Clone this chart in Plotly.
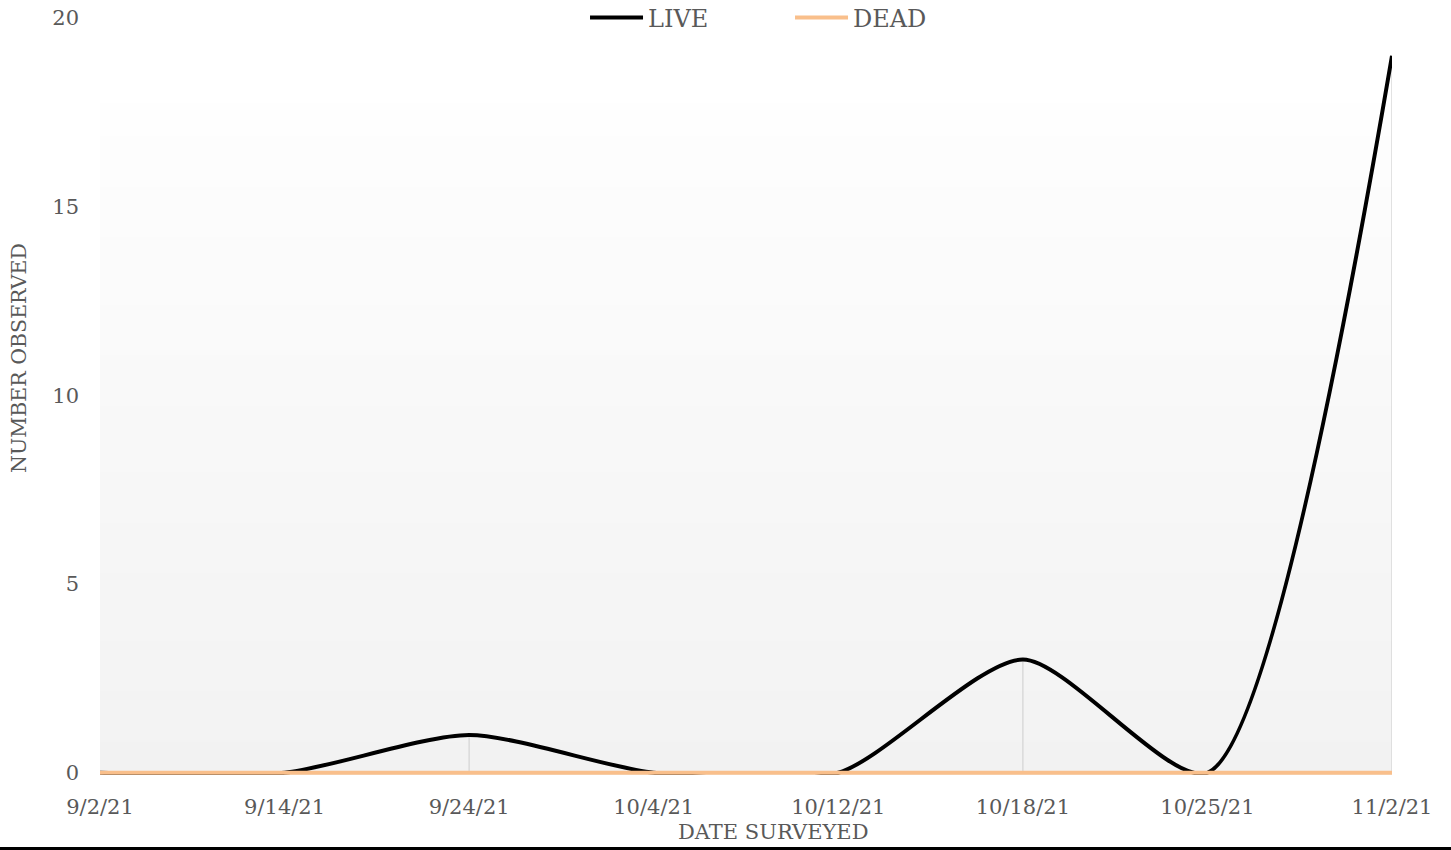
import plotly.graph_objects as go

dates = ["9/2/21", "9/14/21", "9/24/21", "10/4/21", "10/12/21", "10/18/21", "10/25/21", "11/2/21"]
live = [0, 0, 1, 0, 0, 3, 0, 19]
dead = [0, 0, 0, 0, 0, 0, 0, 0]
y_ticks = [0, 5, 10, 15, 20]

FONT = "DejaVu Serif"
TXT = "#595959"

fig = go.Figure()

# drop lines (grey verticals from each LIVE point to the axis)
fig.add_trace(go.Scatter(
    x=dates, y=live, mode="markers", marker=dict(size=0.1, opacity=0),
    showlegend=False, hoverinfo="skip",
    error_y=dict(type="data", symmetric=False, array=[0] * len(live),
                 arrayminus=live, color="#d9d9d9", thickness=1.5, width=0),
))
fig.add_trace(go.Scatter(
    x=dates, y=live, name="LIVE", mode="lines",
    line=dict(color="#000000", width=4, shape="spline", smoothing=0.7),
))
fig.add_trace(go.Scatter(
    x=dates, y=dead, name="DEAD", mode="lines",
    line=dict(color="#f9bf8b", width=4, shape="spline", smoothing=0.7),
))

# vertical gradient background of the plot area
shapes = []
n = 40
top = 0.8877
c_bot = (242, 242, 242)
c_top = (254, 254, 254)
for i in range(n):
    f = (i + 0.5) / n
    c = tuple(round(c_bot[k] + (c_top[k] - c_bot[k]) * f) for k in range(3))
    y0 = top * i / n
    y1 = top * (i + 1) / n
    shapes.append(dict(type="rect", xref="paper", yref="paper",
                       x0=0, x1=1, y0=y0, y1=min(top, y1 + 0.004),
                       fillcolor="rgb(%d,%d,%d)" % c, line=dict(width=0),
                       layer="below"))
# bottom border line
shapes.append(dict(type="line", xref="paper", yref="paper",
                   x0=-0.2, x1=1.2, y0=-0.0971, y1=-0.0971,
                   line=dict(color="#000000", width=3)))

annotations = [
    dict(text="DATE SURVEYED", xref="paper", yref="paper", x=0.5209, y=-0.0753,
         xanchor="center", yanchor="middle", showarrow=False,
         font=dict(family=FONT, size=21, color=TXT)),
    dict(text="NUMBER OBSERVED", xref="paper", yref="paper", x=-0.0627, y=0.5509,
         xanchor="center", yanchor="middle", showarrow=False, textangle=-90,
         font=dict(family=FONT, size=20.5, color=TXT)),
]

fig.update_layout(
    width=1451, height=850,
    margin=dict(l=100, r=59, t=18, b=75, autoexpand=False),
    paper_bgcolor="white", plot_bgcolor="rgba(0,0,0,0)",
    font=dict(family=FONT, color=TXT, size=20),
    shapes=shapes,
    annotations=annotations,
    showlegend=True,
    legend=dict(orientation="h", x=0.3754, xanchor="left", y=1.0, yanchor="middle",
                font=dict(family=FONT, size=24, color=TXT), itemwidth=53, entrywidth=137,
                bgcolor="rgba(0,0,0,0)"),
    xaxis=dict(type="category", range=[0, 7], showgrid=False, zeroline=False,
               showline=False, ticks="", ticklabelstandoff=17, automargin=False,
               tickfont=dict(family=FONT, size=21, color=TXT)),
    yaxis=dict(range=[-0.06, 20], tickvals=y_ticks, showgrid=False, zeroline=False,
               showline=False, ticks="", ticklabelstandoff=20, automargin=False,
               tickfont=dict(family=FONT, size=21, color=TXT)),
)

fig.write_html("out.html", config={"displayModeBar": False},
               post_script="document.body.style.margin='0';document.body.style.overflow='hidden';")
